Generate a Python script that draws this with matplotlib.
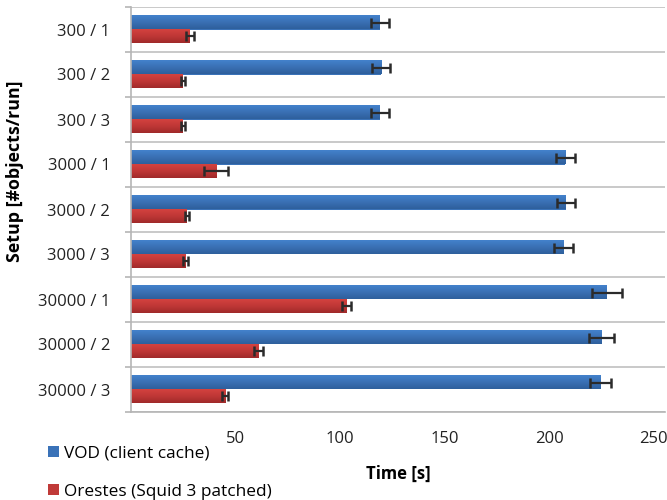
import matplotlib.pyplot as plt
import numpy as np
from matplotlib.colors import LinearSegmentedColormap

setups = ["300 / 1", "300 / 2", "300 / 3",
          "3000 / 1", "3000 / 2", "3000 / 3",
          "30000 / 1", "30000 / 2", "30000 / 3"]

vod = [119, 119.6, 119, 207.7, 208, 207, 227.6, 225, 224.4]
vod_err = [4.3, 4.3, 4.3, 4.5, 4.5, 4.5, 7, 5.8, 5]

orestes = [28.2, 24.7, 24.7, 40.7, 26.6, 26.1, 103, 61, 45]
orestes_err = [2, 1, 1, 5.7, 1, 1, 2, 2, 1.5]

xticks = [50, 100, 150, 200, 250]

plt.rcParams['font.family'] = ['Open Sans', 'DejaVu Sans']

fig = plt.figure(figsize=(6.67, 5), dpi=100)
ax = fig.add_axes([0.1964, 0.176, 0.801, 0.81])

y = np.arange(len(setups))
h = 0.31

blue_cmap = LinearSegmentedColormap.from_list("b", ["#4382cc", "#3a70b4", "#2e5f9c"])
red_cmap = LinearSegmentedColormap.from_list("r", ["#d3423f", "#bf3736", "#a02a2a"])
grad = np.linspace(0, 1, 64).reshape(-1, 1)

bars_v = ax.barh(y - h / 2, vod, height=h, color="#3a72b8",
                 label="VOD (client cache)", zorder=2)
bars_o = ax.barh(y + h / 2, orestes, height=h, color="#c03a38",
                 label="Orestes (Squid 3 patched)", zorder=2)

# excel-like vertical gradient on every bar
for bars, cmap in ((bars_v, blue_cmap), (bars_o, red_cmap)):
    for b in bars:
        x0, y0 = b.get_x(), b.get_y()
        ax.imshow(grad, cmap=cmap, aspect="auto", zorder=2.5,
                  extent=(x0, x0 + b.get_width(), y0 + b.get_height(), y0),
                  interpolation="bilinear")

ax.errorbar(vod, y - h / 2, xerr=vod_err, fmt="none", ecolor="#2b2b2b",
            elinewidth=1.6, capsize=3.5, capthick=1.8, zorder=3)
ax.errorbar(orestes, y + h / 2, xerr=orestes_err, fmt="none", ecolor="#2b2b2b",
            elinewidth=1.6, capsize=3.5, capthick=1.8, zorder=3)

ax.set_xlim(0, 255.5)
ax.set_ylim(len(setups) - 0.5, -0.5)

ax.set_yticks(y)
ax.set_yticklabels(setups, fontsize=12, color="#222222")
ax.set_yticks(np.arange(len(setups) + 1) - 0.5, minor=True)
ax.tick_params(axis="y", which="major", length=0, pad=15)
ax.tick_params(axis="y", which="minor", length=4.5, color="#b5b5b5", width=1.2)
ax.grid(axis="y", which="minor", color="#c0c0c0", linewidth=1.2, zorder=0)

ax.set_xticks(xticks)
ax.set_xticklabels([str(t) for t in xticks], fontsize=12, color="#222222")
ax.tick_params(axis="x", length=0, pad=14)

for side in ("top", "right"):
    ax.spines[side].set_visible(False)
for side in ("left", "bottom"):
    ax.spines[side].set_color("#b5b5b5")
    ax.spines[side].set_linewidth(1.2)

ax.set_xlabel("Time [s]", fontsize=12, fontweight="bold")
ax.xaxis.set_label_coords(0.5, -0.13)
fig.text(0.0225, 1 - 171 / 500, "Setup [#objects/run]", rotation=90,
         ha="center", va="center", fontsize=12.8, fontweight="bold")

fig.legend(handles=[bars_v, bars_o], loc="lower left",
           bbox_to_anchor=(0.049, -0.03), frameon=False, fontsize=12.4,
           handlelength=0.65, handleheight=0.65, handletextpad=0.25,
           labelspacing=1.28)

fig.savefig("out.png", dpi=100)
